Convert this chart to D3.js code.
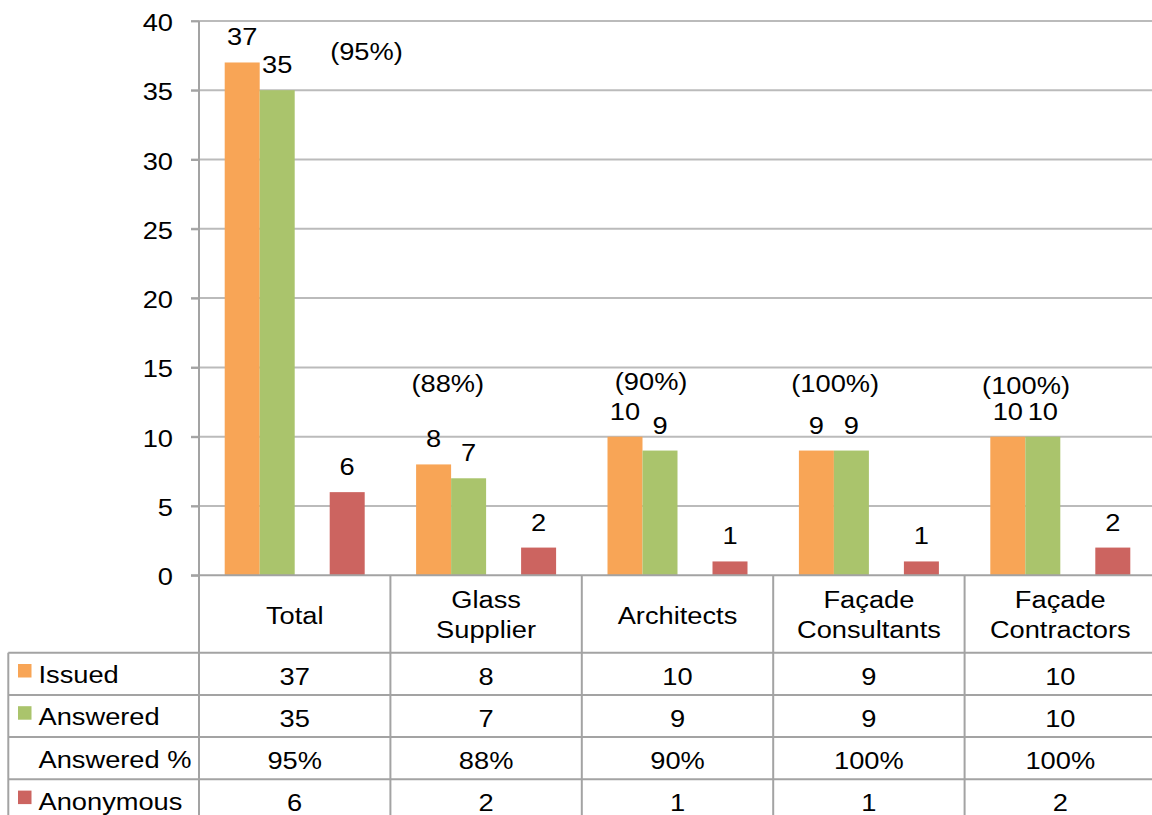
<!DOCTYPE html>
<html>
<head>
<meta charset="utf-8">
<script src="https://cdn.jsdelivr.net/npm/d3@7"></script>
<style>
  html, body { margin: 0; padding: 0; background: #ffffff; }
  svg { display: block; }
  text { font-family: "Liberation Sans", Arial, sans-serif; fill: #000; }
</style>
</head>
<body>
<svg id="chart" width="1152" height="815"></svg>
<script>
// Questionnaire responses per respondent group
const categories = ["Total", "Glass Supplier", "Architects", "Façade Consultants", "Façade Contractors"];
const categoryLines = [["Total"], ["Glass", "Supplier"], ["Architects"], ["Façade", "Consultants"], ["Façade", "Contractors"]];
const seriesNames = ["Issued", "Answered", "Answered %", "Anonymous"];
const issued = [37, 8, 10, 9, 10];
const answered = [35, 7, 9, 9, 10];
const answeredPct = [95, 88, 90, 100, 100];
const anonymous = [6, 2, 1, 1, 2];
const yTicks = [0, 5, 10, 15, 20, 25, 30, 35, 40];

// Where each "(xx%)" note sits: fraction across the category band, value on the y scale
const pctLabelAnchor = [[0.875, 37.2], [0.30, 13.2], [0.362, 13.4], [0.324, 13.2], [0.321, 13.1]];

const colors = { "Issued": "#F8A556", "Answered": "#AAC46C", "Answered %": "none", "Anonymous": "#CC6460" };

const W = 1152, H = 815;
const plotLeft = 199, bandW = 191.4;
const plotTop = 20.9, plotBottom = 575.3;
const tableLeft = 8.3, tableTop = 652.7, rowH = 42.2;
const barW = 35;
const fontSize = 23.5, stretch = 1.16;
const gridColor = "#BBBBBB", lineColor = "#A3A3A3";

const svg = d3.select("#chart");

const x = d3.scaleBand()
  .domain(categories)
  .range([plotLeft, plotLeft + bandW * categories.length])
  .paddingInner(0).paddingOuter(0);

const xs = d3.scaleBand()
  .domain(seriesNames)
  .range([0, bandW])
  .paddingInner(0)
  .paddingOuter((bandW / barW - seriesNames.length) / 2);

const y = d3.scaleLinear().domain([0, 40]).range([plotBottom, plotTop]);

// text helper: Arial-like text drawn slightly wide
function label(g, px, py, str, anchor) {
  return g.append("text")
    .attr("transform", `translate(${px},${py}) scale(${stretch},1)`)
    .attr("text-anchor", anchor || "middle")
    .style("font-size", fontSize + "px")
    .text(str);
}

// gridlines
const grid = svg.append("g");
yTicks.filter(t => t !== 0).forEach(t => {
  grid.append("line")
    .attr("x1", plotLeft - 8).attr("x2", W)
    .attr("y1", y(t)).attr("y2", y(t))
    .attr("stroke", gridColor).attr("stroke-width", 2);
});

// y axis with tick labels
const yAxis = d3.axisLeft(y).tickValues(yTicks).tickSize(8).tickPadding(18).tickFormat(d3.format("d"));
const ya = svg.append("g").attr("transform", `translate(${plotLeft},0)`).call(yAxis);
ya.select(".domain").remove();
ya.selectAll(".tick line").attr("stroke", lineColor).attr("stroke-width", 2);
ya.selectAll(".tick text").remove();
yTicks.forEach(t => label(svg, plotLeft - 26, y(t) + 10, String(t), "end"));

// bars
const rows = categories.map((c, i) => ({
  cat: c, i,
  values: [
    { s: "Issued", v: issued[i] },
    { s: "Answered", v: answered[i] },
    { s: "Anonymous", v: anonymous[i] }
  ]
}));

const groups = svg.append("g").selectAll("g").data(rows).join("g")
  .attr("transform", d => `translate(${x(d.cat)},0)`);

groups.selectAll("rect").data(d => d.values).join("rect")
  .attr("x", d => xs(d.s))
  .attr("width", xs.bandwidth())
  .attr("y", d => y(d.v))
  .attr("height", d => y(0) - y(d.v))
  .attr("fill", d => colors[d.s]);

// value labels above bars
groups.each(function (d) {
  const g = d3.select(this);
  d.values.forEach(v => label(g, xs(v.s) + xs.bandwidth() / 2, y(v.v) - 17, String(v.v)));
});

// percentage notes
categories.forEach((c, i) => {
  const [fx, vy] = pctLabelAnchor[i];
  label(svg, x(c) + fx * bandW, y(vy), `(${answeredPct[i]}%)`);
});

// category axis row and data table
const tbl = svg.append("g");
const rightEdge = plotLeft + bandW * categories.length;

// horizontal rules
tbl.append("line").attr("x1", plotLeft - 8).attr("x2", rightEdge)
  .attr("y1", plotBottom).attr("y2", plotBottom)
  .attr("stroke", lineColor).attr("stroke-width", 2);
for (let r = 0; r <= seriesNames.length; r++) {
  const yy = tableTop + r * rowH;
  tbl.append("line").attr("x1", tableLeft).attr("x2", rightEdge)
    .attr("y1", yy).attr("y2", yy)
    .attr("stroke", lineColor).attr("stroke-width", 2);
}
// vertical rules
tbl.append("line").attr("x1", plotLeft).attr("x2", plotLeft)
  .attr("y1", plotTop).attr("y2", H)
  .attr("stroke", lineColor).attr("stroke-width", 2);
categories.forEach(c => {
  const xx = x(c) + bandW;
  tbl.append("line").attr("x1", xx).attr("x2", xx)
    .attr("y1", plotBottom).attr("y2", H)
    .attr("stroke", lineColor).attr("stroke-width", 2);
});
tbl.append("line").attr("x1", tableLeft).attr("x2", tableLeft)
  .attr("y1", tableTop).attr("y2", H)
  .attr("stroke", lineColor).attr("stroke-width", 2);

// category names
categories.forEach((c, i) => {
  const lines = categoryLines[i];
  const cx = x(c) + bandW / 2;
  if (lines.length === 1) {
    label(tbl, cx, 624, lines[0]);
  } else {
    label(tbl, cx, 608, lines[0]);
    label(tbl, cx, 638, lines[1]);
  }
});

// table rows
const tableData = [issued, answered, answeredPct.map(p => p + "%"), anonymous];
seriesNames.forEach((s, r) => {
  const top = tableTop + r * rowH;
  const base = top + 30.5;
  if (colors[s] !== "none") {
    tbl.append("rect").attr("x", 18).attr("y", top + 11.3)
      .attr("width", 13.5).attr("height", 13.5).attr("fill", colors[s]);
  }
  label(tbl, 38.5, base, s, "start");
  categories.forEach((c, i) => {
    label(tbl, x(c) + bandW / 2, base + 1.5, String(tableData[r][i]));
  });
});
</script>
</body>
</html>
